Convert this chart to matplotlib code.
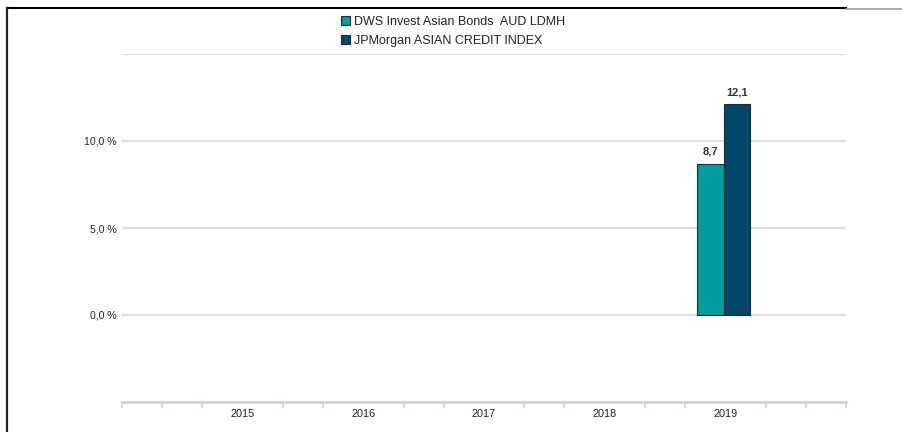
import matplotlib
matplotlib.use("Agg")
import matplotlib.pyplot as plt
from matplotlib.patches import Patch
from matplotlib.lines import Line2D

plt.rcParams['font.family'] = ['Liberation Sans', 'DejaVu Sans']

years = [2015, 2016, 2017, 2018, 2019]
series_names = ["DWS Invest Asian Bonds  AUD LDMH", "JPMorgan ASIAN CREDIT INDEX"]
fund_values = [None, None, None, None, 8.7]
index_values = [None, None, None, None, 12.1]
colors = ["#009c9e", "#00476b"]
ytick_values = [0, 5, 10, 15]
ytick_labels = ["0,0 %", "5,0 %", "10,0 %", ""]

grid_col = "#dedbd3"
axis_col = "#d6d1c4"
text_col = "#222222"

fig = plt.figure(figsize=(9.03, 4.32), dpi=100)
ax = fig.add_axes([122 / 903, 30 / 432, 724 / 903, 348 / 432])

width = 0.22
for vals, off, col in [(fund_values, -width / 2, colors[0]), (index_values, width / 2, colors[1])]:
    for yr, v in zip(years, vals):
        if v is None:
            continue
        ax.bar(yr + off - 0.015, v, width=width, color=col, edgecolor="#1c2b33",
               linewidth=0.8, zorder=3)
        ax.text(yr + off - 0.015, v + 0.4, f"{v:.1f}".replace(".", ","), ha="center",
                va="bottom", fontsize=8, fontweight="bold", color="#333333")

ax.set_xlim(years[0] - 1, years[-1] + 1)
ax.set_ylim(-5, 15)

ax.set_yticks(ytick_values)
ax.set_yticklabels(ytick_labels, fontsize=7.6, color=text_col)
ax.tick_params(axis="y", length=0, pad=4)
ax.grid(axis="y", color=grid_col, linewidth=1.3, zorder=0)

ax.set_xticks(years)
ax.set_xticklabels([str(y) for y in years], fontsize=7.8, color=text_col)
ax.tick_params(axis="x", which="major", length=0, pad=5)
minor = [years[0] - 1] + [y + f for y in [years[0] - 1] + years for f in (1 / 3, 2 / 3)] + [years[-1] + 1]
ax.set_xticks(minor, minor=True)
ax.tick_params(axis="x", which="minor", length=4, width=1.2, color=axis_col, direction="out")

for s in ["top", "right", "left"]:
    ax.spines[s].set_visible(False)
ax.spines["bottom"].set_color(axis_col)
ax.spines["bottom"].set_linewidth(2)

handles = [Patch(facecolor=c, edgecolor="#1c2b33", linewidth=0.8) for c in colors]
fig.legend(handles, series_names, loc="upper left", bbox_to_anchor=(336 / 903, 1 - 11 / 432),
           frameon=False, fontsize=9, handlelength=0.75, handleheight=0.75,
           handletextpad=0.3, labelspacing=0.55, borderaxespad=0, labelcolor=text_col)

# page frame
fig.add_artist(Line2D([7 / 903, 846 / 903], [1 - 8 / 432] * 2, transform=fig.transFigure,
                      color="black", linewidth=1.5))
fig.add_artist(Line2D([846 / 903, 1], [1 - 9 / 432] * 2, transform=fig.transFigure,
                      color="#9a9a9a", linewidth=1.2))
fig.add_artist(Line2D([7 / 903] * 2, [0, 1 - 8 / 432], transform=fig.transFigure,
                      color="#222222", linewidth=1.6))

fig.savefig("out.png", dpi=100)
